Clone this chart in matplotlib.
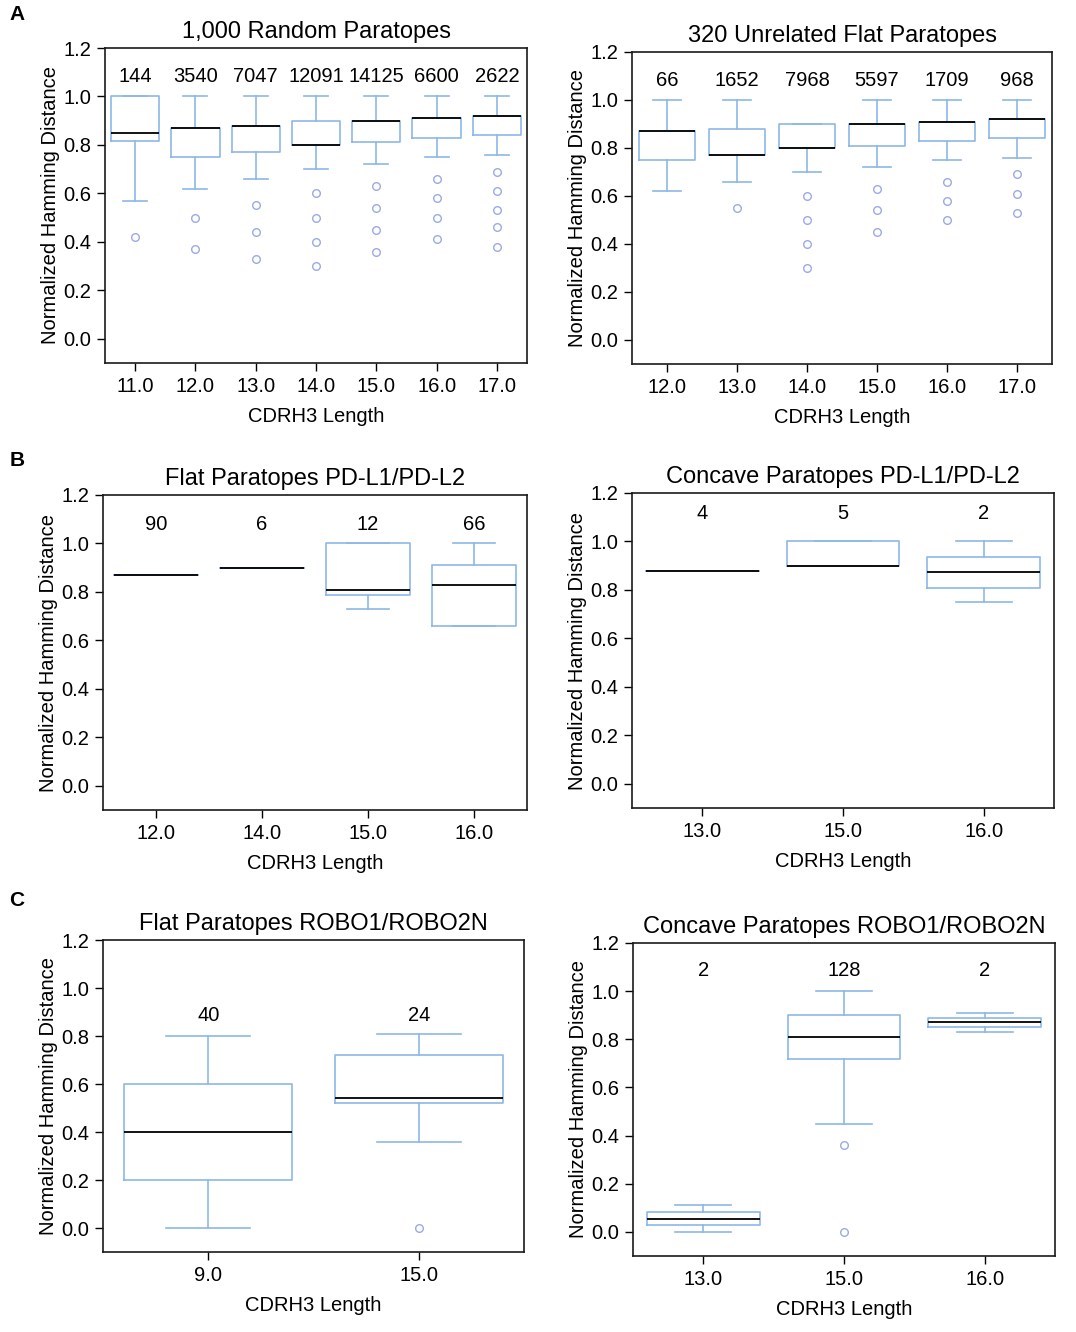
import matplotlib
matplotlib.use("Agg")
import matplotlib.pyplot as plt

plt.rcParams['font.family'] = ['Liberation Sans', 'DejaVu Sans']
plt.rcParams['font.size'] = 14.5

BOX_COLOR = "#8db7e8"
FLIER_COLOR = "#9aaae6"

# ---- A: 1,000 Random Paratopes ----
a1_lengths = ["11.0", "12.0", "13.0", "14.0", "15.0", "16.0", "17.0"]
a1_counts = [144, 3540, 7047, 12091, 14125, 6600, 2622]
a1_whislo = [0.57, 0.62, 0.66, 0.70, 0.72, 0.75, 0.76]
a1_q1 = [0.815, 0.75, 0.77, 0.80, 0.81, 0.83, 0.84]
a1_med = [0.85, 0.87, 0.88, 0.80, 0.90, 0.91, 0.92]
a1_q3 = [1.00, 0.87, 0.88, 0.90, 0.90, 0.91, 0.92]
a1_whishi = [1.00, 1.00, 1.00, 1.00, 1.00, 1.00, 1.00]
a1_fliers = [[0.42], [0.50, 0.37], [0.55, 0.44, 0.33], [0.60, 0.50, 0.40, 0.30],
             [0.63, 0.54, 0.45, 0.36], [0.66, 0.58, 0.50, 0.41],
             [0.69, 0.61, 0.53, 0.46, 0.38]]

# ---- A: 320 Unrelated Flat Paratopes ----
a2_lengths = ["12.0", "13.0", "14.0", "15.0", "16.0", "17.0"]
a2_counts = [66, 1652, 7968, 5597, 1709, 968]
a2_whislo = [0.62, 0.66, 0.70, 0.72, 0.75, 0.76]
a2_q1 = [0.75, 0.77, 0.80, 0.81, 0.83, 0.84]
a2_med = [0.87, 0.77, 0.80, 0.90, 0.91, 0.92]
a2_q3 = [0.87, 0.88, 0.90, 0.90, 0.91, 0.92]
a2_whishi = [1.00, 1.00, 0.90, 1.00, 1.00, 1.00]
a2_fliers = [[], [0.55], [0.60, 0.50, 0.40, 0.30], [0.63, 0.54, 0.45],
             [0.66, 0.58, 0.50], [0.69, 0.61, 0.53]]

# ---- B: Flat Paratopes PD-L1/PD-L2 ----
b1_lengths = ["12.0", "14.0", "15.0", "16.0"]
b1_counts = [90, 6, 12, 66]
b1_whislo = [0.87, 0.90, 0.73, 0.66]
b1_q1 = [0.87, 0.90, 0.787, 0.66]
b1_med = [0.87, 0.90, 0.81, 0.83]
b1_q3 = [0.87, 0.90, 1.00, 0.91]
b1_whishi = [0.87, 0.90, 1.00, 1.00]
b1_fliers = [[], [], [], []]

# ---- B: Concave Paratopes PD-L1/PD-L2 ----
b2_lengths = ["13.0", "15.0", "16.0"]
b2_counts = [4, 5, 2]
b2_whislo = [0.88, 0.90, 0.75]
b2_q1 = [0.88, 0.90, 0.81]
b2_med = [0.88, 0.90, 0.875]
b2_q3 = [0.88, 1.00, 0.935]
b2_whishi = [0.88, 1.00, 1.00]
b2_fliers = [[], [], []]

# ---- C: Flat Paratopes ROBO1/ROBO2N ----
c1_lengths = ["9.0", "15.0"]
c1_counts = [40, 24]
c1_whislo = [0.00, 0.36]
c1_q1 = [0.20, 0.52]
c1_med = [0.40, 0.54]
c1_q3 = [0.60, 0.72]
c1_whishi = [0.80, 0.81]
c1_fliers = [[], [0.0]]

# ---- C: Concave Paratopes ROBO1/ROBO2N ----
c2_lengths = ["13.0", "15.0", "16.0"]
c2_counts = [2, 128, 2]
c2_whislo = [0.00, 0.45, 0.83]
c2_q1 = [0.03, 0.72, 0.85]
c2_med = [0.055, 0.81, 0.87]
c2_q3 = [0.082, 0.90, 0.89]
c2_whishi = [0.11, 1.00, 0.91]
c2_fliers = [[], [0.36, 0.0], []]


def make_stats(lengths, whislo, q1, med, q3, whishi, fliers):
    stats = []
    for i in range(len(lengths)):
        stats.append(dict(label=lengths[i], whislo=whislo[i], q1=q1[i], med=med[i],
                          q3=q3[i], whishi=whishi[i], fliers=fliers[i]))
    return stats


def draw_panel(ax, title, lengths, counts, stats, count_y):
    ax.bxp(stats, positions=range(len(lengths)), widths=0.8,
           boxprops=dict(color=BOX_COLOR, linewidth=1.2),
           whiskerprops=dict(color=BOX_COLOR, linewidth=1.2),
           capprops=dict(color=BOX_COLOR, linewidth=1.2),
           medianprops=dict(color="black", linewidth=1.3),
           flierprops=dict(marker="o", markerfacecolor="none",
                           markeredgecolor=FLIER_COLOR, markersize=5.5,
                           markeredgewidth=1.0),
           capwidths=0.4, manage_ticks=False)
    for i, c in enumerate(counts):
        ax.text(i, count_y, str(c), ha="center", va="center", fontsize=14.5)
    ax.set_xticks(range(len(lengths)))
    ax.set_xticklabels(lengths)
    ax.set_xlim(-0.5, len(lengths) - 0.5)
    ax.set_ylim(-0.1, 1.2)
    ax.set_yticks([0.0, 0.2, 0.4, 0.6, 0.8, 1.0, 1.2])
    ax.set_yticklabels(["0.0", "0.2", "0.4", "0.6", "0.8", "1.0", "1.2"])
    ax.tick_params(direction="out", length=6, width=1.0, pad=4, labelsize=14.5,
                   top=False, right=False)
    for s in ax.spines.values():
        s.set_linewidth(1.2)
        s.set_color("#1a1a1a")
    ax.set_title(title, fontsize=17, pad=7)
    ax.set_xlabel("CDRH3 Length", fontsize=14.5, labelpad=8)
    ax.set_ylabel("Normalized Hamming Distance", fontsize=14.5, labelpad=2)


fig = plt.figure(figsize=(10.76, 13.32), dpi=100)

W, H = 1076, 1332


def axes_px(x0, y0, x1, y1):
    return fig.add_axes([x0 / W, 1 - y1 / H, (x1 - x0) / W, (y1 - y0) / H])


ax = axes_px(105, 48, 527, 363)
draw_panel(ax, "1,000 Random Paratopes", a1_lengths, a1_counts,
           make_stats(a1_lengths, a1_whislo, a1_q1, a1_med, a1_q3, a1_whishi, a1_fliers), 1.083)

ax = axes_px(632, 52, 1052, 364)
draw_panel(ax, "320 Unrelated Flat Paratopes", a2_lengths, a2_counts,
           make_stats(a2_lengths, a2_whislo, a2_q1, a2_med, a2_q3, a2_whishi, a2_fliers), 1.08)

ax = axes_px(103, 495, 527, 810)
draw_panel(ax, "Flat Paratopes PD-L1/PD-L2", b1_lengths, b1_counts,
           make_stats(b1_lengths, b1_whislo, b1_q1, b1_med, b1_q3, b1_whishi, b1_fliers), 1.077)

ax = axes_px(632, 493, 1054, 808)
draw_panel(ax, "Concave Paratopes PD-L1/PD-L2", b2_lengths, b2_counts,
           make_stats(b2_lengths, b2_whislo, b2_q1, b2_med, b2_q3, b2_whishi, b2_fliers), 1.117)

ax = axes_px(103, 940, 524, 1252)
draw_panel(ax, "Flat Paratopes ROBO1/ROBO2N", c1_lengths, c1_counts,
           make_stats(c1_lengths, c1_whislo, c1_q1, c1_med, c1_q3, c1_whishi, c1_fliers), 0.884)

ax = axes_px(633, 943, 1055, 1256)
draw_panel(ax, "Concave Paratopes ROBO1/ROBO2N", c2_lengths, c2_counts,
           make_stats(c2_lengths, c2_whislo, c2_q1, c2_med, c2_q3, c2_whishi, c2_fliers), 1.085)

for letter, ypx in [("A", 15), ("B", 460), ("C", 900)]:
    fig.text(17 / W, 1 - ypx / H, letter, fontsize=15, fontweight="bold",
             ha="center", va="center")

fig.savefig("out.png", dpi=100)
plt.close(fig)
